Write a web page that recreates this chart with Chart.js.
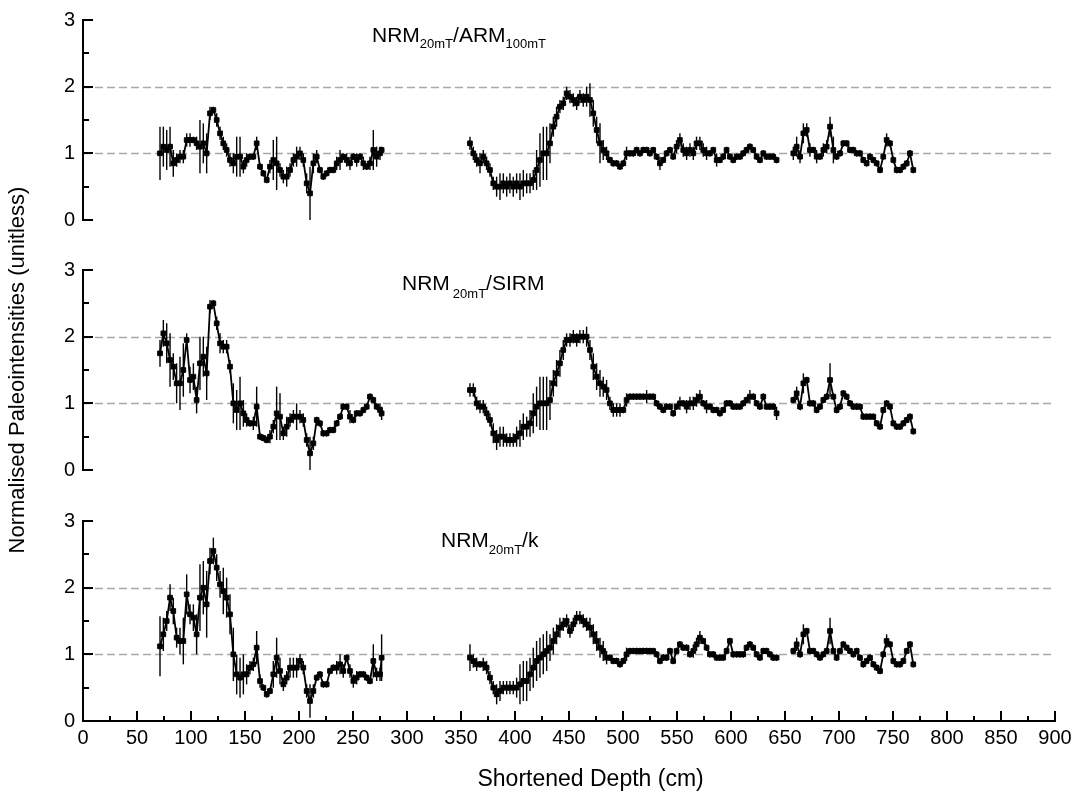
<!DOCTYPE html>
<html>
<head>
<meta charset="utf-8">
<script src="https://cdn.jsdelivr.net/npm/chart.js@4.4.1/dist/chart.umd.min.js"></script>
<style>
  html, body { margin: 0; padding: 0; background: #fff; }
  body { width: 1081px; height: 793px; position: relative; overflow: hidden; }
  canvas { position: absolute; left: 0; top: 0; }
</style>
</head>
<body>
<canvas id="c1" width="1081" height="793"></canvas>
<canvas id="c2" width="1081" height="793"></canvas>
<canvas id="c3" width="1081" height="793"></canvas>
<script>
// ---------------- DATA ----------------
const depthCm = [
  71.3,74.4,77.5,80.6,83.6,86.7,89.8,92.9,96.0,99.1,102.2,105.2,108.3,111.4,114.5,117.6,120.7,123.8,126.9,129.9,
  133.0,136.1,139.2,142.3,145.4,148.5,151.5,154.6,157.7,160.8,163.9,167.0,170.1,173.1,176.2,179.3,182.4,185.5,188.6,191.7,
  194.8,197.8,200.9,204.0,207.1,210.2,213.3,216.4,219.4,222.5,225.6,228.7,231.8,234.9,238.0,241.0,244.1,247.2,250.3,253.4,
  256.5,259.6,262.7,265.7,268.8,271.9,275.0,276.5,
  358.3,361.4,364.5,367.6,370.6,373.7,376.8,379.9,383.0,386.1,389.2,392.3,395.3,398.4,401.5,404.6,407.7,410.8,413.9,416.9,
  420.0,423.1,426.2,429.3,432.4,435.5,438.5,441.6,444.7,447.8,450.9,454.0,457.1,460.1,463.2,466.3,469.4,472.5,475.6,478.7,
  481.7,484.8,487.9,491.0,494.1,497.2,500.3,503.3,506.4,509.5,512.6,515.7,518.8,521.9,524.9,528.0,531.1,534.2,537.3,540.4,
  543.5,546.5,549.6,552.7,555.8,558.9,562.0,565.1,568.1,571.2,574.3,577.4,580.5,583.6,586.7,589.7,592.8,595.9,599.0,602.1,
  605.2,608.3,611.3,614.4,617.5,620.6,623.7,626.8,629.9,632.9,636.0,639.1,642.2,
  657.7,660.8,663.9,667.0,670.1,673.1,676.2,679.3,682.4,685.5,688.6,691.7,694.8,697.8,700.9,704.0,707.1,710.2,713.3,716.4,
  719.4,722.5,725.6,728.7,731.8,734.9,738.0,741.0,744.1,747.2,750.3,753.4,756.5,759.6,762.7,765.7,768.8
];

// NRM20mT / ARM100mT
const armRatio = [
  1.0,1.1,1.05,1.1,0.85,0.9,0.95,0.95,1.2,1.2,1.2,1.15,1.1,1.15,1.0,1.6,1.65,1.5,1.3,1.15,
  1.05,0.9,0.85,0.95,0.95,0.8,0.9,0.95,0.95,1.15,0.8,0.7,0.6,0.8,0.9,0.85,0.75,0.65,0.65,0.75,
  0.9,0.95,1.0,0.9,0.55,0.4,0.85,0.95,0.75,0.65,0.7,0.75,0.75,0.85,0.9,0.95,0.9,0.85,0.95,0.9,
  0.95,0.85,0.8,0.85,1.05,0.95,1.0,1.05,
  1.15,1.0,0.9,0.85,0.95,0.85,0.75,0.55,0.5,0.5,0.55,0.5,0.55,0.5,0.55,0.5,0.55,0.55,0.55,0.6,
  0.75,0.9,1.0,1.0,1.15,1.4,1.55,1.7,1.75,1.9,1.85,1.8,1.75,1.85,1.8,1.85,1.8,1.6,1.35,1.15,
  1.05,1.0,0.9,0.85,0.85,0.8,0.85,1.0,1.0,1.0,1.05,1.0,1.05,1.05,1.0,1.05,0.95,0.85,0.9,1.0,
  1.05,0.95,1.1,1.2,1.05,1.0,1.05,1.0,1.15,1.15,1.05,1.0,1.0,1.05,0.9,0.9,0.95,1.05,0.95,0.9,
  0.95,0.95,1.0,1.05,1.1,1.05,0.95,0.9,1.0,0.95,0.95,0.95,0.9,
  1.0,1.1,0.95,1.3,1.35,1.05,1.05,0.95,0.95,1.05,1.1,1.4,1.05,0.95,1.0,1.15,1.15,1.05,1.05,1.0,
  1.0,0.9,0.85,0.95,0.9,0.85,0.75,0.95,1.2,1.15,0.9,0.75,0.75,0.8,0.85,1.0,0.75
];
const armErr = [
  .4,.3,.3,.3,.2,.1,.1,.1,.1,.1,.05,.1,.4,.3,.3,.1,.05,.1,.1,.1,
  .1,.1,.15,.3,.3,.1,.1,.05,.05,.1,.05,.05,.05,.1,.3,.4,.1,.1,.15,.1,
  .1,.15,.1,.1,.15,.4,.15,.1,.05,.05,.05,.05,.05,.1,.15,.05,.1,.1,.05,.1,
  .05,.1,.05,.1,.3,.15,.1,.05,
  .1,.1,.1,.15,.1,.1,.1,.1,.15,.2,.15,.15,.15,.15,.15,.2,.2,.15,.15,.15,
  .3,.4,.4,.4,.3,.15,.15,.1,.1,.1,.1,.1,.1,.1,.1,.15,.25,.2,.2,.3,
  .15,.1,.05,.05,.05,.05,.05,.1,.05,.05,.05,.05,.05,.05,.05,.05,.05,.1,.05,.05,
  .05,.05,.1,.1,.1,.1,.1,.1,.1,.1,.1,.1,.05,.05,.1,.05,.05,.05,.05,.05,
  .05,.05,.05,.05,.05,.05,.05,.05,.05,.05,.05,.05,.05,
  .1,.15,.1,.15,.1,.1,.05,.1,.05,.1,.1,.15,.2,.05,.05,.05,.05,.05,.05,.05,
  .05,.05,.05,.05,.05,.05,.05,.05,.1,.05,.05,.05,.05,.05,.05,.05,.05
];

// NRM20mT / SIRM
const sirmRatio = [
  1.75,2.05,1.9,1.65,1.55,1.3,1.3,1.5,1.95,1.35,1.4,1.05,1.6,1.7,1.45,2.45,2.5,2.2,1.9,1.85,
  1.85,1.55,1.0,0.9,1.0,0.85,0.75,0.7,0.7,0.95,0.5,0.48,0.45,0.5,0.65,0.85,0.8,0.55,0.65,0.75,
  0.8,0.8,0.8,0.75,0.45,0.25,0.4,0.75,0.7,0.55,0.55,0.6,0.6,0.7,0.8,0.95,0.95,0.8,0.75,0.85,
  0.85,0.9,0.95,1.1,1.05,0.95,0.9,0.85,
  1.2,1.2,1.0,0.95,0.95,0.85,0.75,0.55,0.45,0.5,0.5,0.45,0.45,0.45,0.5,0.55,0.65,0.65,0.7,0.85,
  0.95,1.0,1.0,1.0,1.05,1.3,1.45,1.6,1.8,1.95,1.95,2.0,1.95,2.0,2.0,2.0,1.8,1.55,1.4,1.3,
  1.25,1.2,1.0,0.9,0.9,0.9,0.9,1.05,1.1,1.1,1.1,1.1,1.1,1.1,1.1,1.1,1.0,0.95,0.9,0.95,
  0.95,0.85,0.95,1.0,1.0,0.95,1.0,1.0,1.05,1.1,1.0,0.95,0.95,0.9,0.9,0.85,0.9,1.0,1.0,0.95,
  0.95,0.95,1.0,1.05,1.1,1.1,1.0,0.95,1.1,0.95,0.95,0.95,0.85,
  1.05,1.15,0.95,1.3,1.35,1.0,1.0,0.9,0.95,1.05,1.1,1.35,1.1,0.9,0.95,1.15,1.1,1.0,0.95,0.95,
  0.95,0.8,0.8,0.8,0.8,0.7,0.65,0.9,1.0,0.95,0.7,0.65,0.65,0.7,0.75,0.8,0.58
];
const sirmErr = [
  .2,.2,.3,.4,.2,.3,.4,.4,.1,.2,.2,.2,.4,.3,.4,.1,.05,.1,.15,.1,
  .1,.1,.3,.3,.4,.2,.1,.05,.1,.3,.05,.05,.05,.1,.1,.4,.35,.1,.15,.1,
  .1,.2,.1,.1,.1,.25,.1,.05,.05,.05,.05,.05,.05,.05,.05,.05,.05,.1,.05,.05,
  .05,.05,.05,.05,.05,.05,.1,.1,
  .1,.1,.1,.1,.1,.1,.1,.15,.15,.15,.15,.1,.1,.1,.15,.2,.2,.15,.2,.3,
  .3,.4,.4,.4,.3,.2,.2,.2,.15,.1,.1,.1,.1,.1,.1,.15,.15,.2,.2,.2,
  .15,.15,.1,.1,.1,.1,.05,.1,.05,.05,.05,.05,.05,.1,.05,.05,.05,.05,.05,.05,
  .05,.05,.05,.1,.05,.1,.1,.1,.1,.1,.05,.1,.05,.05,.05,.05,.05,.05,.05,.05,
  .05,.05,.05,.05,.1,.05,.05,.05,.05,.05,.05,.05,.1,
  .05,.1,.05,.15,.05,.05,.05,.05,.05,.05,.05,.25,.05,.05,.05,.05,.05,.05,.05,.05,
  .05,.05,.05,.05,.05,.05,.05,.05,.05,.05,.05,.05,.05,.05,.05,.05,.05
];

// NRM20mT / k
const kRatio = [
  1.12,1.3,1.5,1.85,1.65,1.25,1.2,1.2,1.9,1.6,1.55,1.3,1.85,2.0,1.75,2.4,2.55,2.3,2.05,1.95,
  1.85,1.6,1.0,0.7,0.65,0.7,0.7,0.8,0.85,1.1,0.6,0.5,0.4,0.45,0.7,0.95,0.75,0.55,0.65,0.8,
  0.8,0.8,0.9,0.8,0.45,0.3,0.45,0.65,0.7,0.55,0.55,0.75,0.8,0.8,0.85,0.75,0.95,0.75,0.6,0.65,
  0.7,0.7,0.65,0.6,0.9,0.7,0.7,0.95,
  0.95,0.9,0.85,0.85,0.85,0.8,0.65,0.5,0.4,0.45,0.5,0.5,0.5,0.5,0.5,0.55,0.6,0.6,0.7,0.8,
  0.9,0.95,1.0,1.05,1.1,1.2,1.3,1.4,1.45,1.5,1.35,1.45,1.55,1.55,1.5,1.45,1.4,1.3,1.2,1.1,
  1.05,0.95,0.95,0.9,0.9,0.85,0.9,1.0,1.05,1.05,1.05,1.05,1.05,1.05,1.05,1.05,1.0,0.9,0.95,0.95,
  1.05,0.9,1.05,1.15,1.1,1.1,1.0,1.05,1.15,1.25,1.2,1.1,1.0,1.0,0.95,0.95,0.95,1.05,1.2,1.0,
  1.0,1.0,1.0,1.1,1.15,1.1,1.0,0.95,1.05,1.05,1.0,0.95,0.95,
  1.05,1.15,1.0,1.3,1.35,1.05,1.05,1.0,0.95,1.0,1.05,1.35,1.05,0.95,1.05,1.15,1.1,1.05,1.0,1.05,
  0.95,0.85,0.9,0.95,0.85,0.8,0.75,1.0,1.2,1.15,0.9,0.85,0.85,0.9,1.05,1.15,0.85
];
const kErr = [
  .45,.25,.15,.2,.2,.15,.2,.35,.3,.15,.2,.3,.5,.4,.5,.2,.2,.2,.2,.35,
  .3,.3,.4,.3,.3,.3,.15,.1,.1,.25,.1,.05,.05,.05,.2,.3,.2,.1,.1,.15,
  .15,.15,.1,.1,.1,.25,.1,.05,.05,.05,.05,.05,.05,.1,.15,.1,.05,.1,.1,.1,
  .05,.05,.05,.05,.25,.1,.1,.35,
  .2,.1,.1,.05,.1,.1,.1,.1,.15,.15,.1,.1,.1,.1,.15,.3,.3,.3,.25,.3,
  .3,.3,.3,.3,.2,.2,.15,.15,.1,.1,.1,.1,.1,.1,.1,.1,.15,.15,.15,.15,
  .15,.1,.05,.05,.05,.05,.05,.1,.05,.05,.05,.05,.05,.05,.05,.05,.05,.05,.05,.05,
  .05,.05,.05,.05,.05,.05,.05,.1,.1,.1,.05,.05,.05,.05,.05,.05,.05,.05,.05,.05,
  .05,.05,.05,.05,.05,.05,.05,.05,.05,.05,.05,.05,.05,
  .05,.1,.05,.15,.05,.05,.05,.05,.05,.05,.05,.2,.05,.05,.05,.05,.05,.05,.05,.05,
  .05,.05,.05,.05,.05,.05,.05,.05,.1,.05,.05,.05,.05,.05,.05,.05,.05
];

const refLevels = [1, 2];
const yTicksMinorStep = 0.5;
const xTicksMinorStep = 25;
const xTitleText = 'Shortened Depth (cm)';
const yTitleText = 'Normalised Paleointensities (unitless)';

// ---------------- DRAWING ----------------
const FONT = "'Liberation Sans', Arial, Helvetica, sans-serif";
Chart.defaults.font.family = FONT;
Chart.defaults.color = '#000';

const panelDecor = {
  id: 'panelDecor',
  beforeDatasetsDraw(chart, args, o) {
    const { ctx, scales: { x, y } } = chart;
    ctx.save();
    ctx.strokeStyle = '#a8a8a8';
    ctx.lineWidth = 1.4;
    ctx.setLineDash([8, 4]);
    refLevels.forEach(v => {
      const py = Math.round(y.getPixelForValue(v)) + 0.5;
      ctx.beginPath();
      ctx.moveTo(x.getPixelForValue(x.min), py);
      ctx.lineTo(x.getPixelForValue(x.max), py);
      ctx.stroke();
    });
    ctx.setLineDash([]);
    const meta = chart.getDatasetMeta(0);
    const ds = chart.data.datasets[0].data;
    ctx.strokeStyle = '#000';
    ctx.lineWidth = 1.4;
    meta.data.forEach((pt, i) => {
      const v = ds[i].y, e = o.err[i];
      ctx.beginPath();
      ctx.moveTo(pt.x, y.getPixelForValue(v - e));
      ctx.lineTo(pt.x, y.getPixelForValue(v + e));
      ctx.stroke();
    });
    ctx.restore();
  },
  afterDraw(chart, args, o) {
    const { ctx, scales: { x, y } } = chart;
    ctx.save();
    ctx.strokeStyle = '#000';
    ctx.lineWidth = 2;
    const x0 = x.getPixelForValue(x.min);
    const x1 = x.getPixelForValue(x.max);
    const yTop = y.getPixelForValue(y.max), yBot = y.getPixelForValue(y.min);
    ctx.beginPath();
    ctx.moveTo(x0, yTop - 1); ctx.lineTo(x0, yBot + 1);
    for (let v = y.min; v <= y.max + 1e-9; v += yTicksMinorStep) {
      const py = Math.round(y.getPixelForValue(v));
      const major = Math.abs(v - Math.round(v)) < 1e-9;
      ctx.moveTo(x0, py); ctx.lineTo(x0 + (major ? 10 : 6), py);
    }
    ctx.stroke();
    if (o.xAxis) {
      ctx.beginPath();
      ctx.moveTo(x0 - 1, yBot); ctx.lineTo(x1 + 1, yBot);
      for (let v = x.min; v <= x.max + 1e-9; v += xTicksMinorStep) {
        const px = Math.round(x.getPixelForValue(v));
        const major = (v % 50) === 0;
        ctx.moveTo(px, yBot); ctx.lineTo(px, yBot - (major ? 10 : 5));
      }
      ctx.stroke();
      ctx.fillStyle = '#000';
      ctx.font = '23px ' + FONT;
      ctx.textAlign = 'center';
      ctx.textBaseline = 'alphabetic';
      ctx.fillText(xTitleText, x.getPixelForValue(o.xTitleAt), o.xTitleBaseline);
    }
    let px = x.getPixelForValue(o.titleAt);
    const base = chart.chartArea.top + o.titleDy;
    ctx.fillStyle = '#000';
    ctx.textAlign = 'left';
    ctx.textBaseline = 'alphabetic';
    o.title.forEach(([t, sub, gap]) => {
      px += gap || 0;
      ctx.font = (sub ? '13px ' : '21px ') + FONT;
      ctx.fillText(t, px, sub ? base + o.subDy : base);
      px += ctx.measureText(t).width;
    });
    ctx.restore();
  }
};

function makePanel(id, vals, errs, padTop, padBottom, showX, showYTitle, decor) {
  const pts = depthCm.map((d, i) => ({ x: d, y: vals[i] }));
  return new Chart(document.getElementById(id), {
    type: 'line',
    data: {
      datasets: [{
        data: pts,
        borderColor: '#000',
        borderWidth: 1.8,
        pointStyle: 'rect',
        pointRadius: 3.3,
        pointBackgroundColor: '#000',
        pointBorderColor: '#000',
        pointBorderWidth: 1,
        tension: 0,
        clip: false,
        segment: {
          borderColor: c => (c.p1.parsed.x - c.p0.parsed.x > 10 ? 'rgba(0,0,0,0)' : undefined)
        }
      }]
    },
    options: {
      responsive: false,
      animation: false,
      events: [],
      layout: { padding: { top: padTop, bottom: padBottom, left: 0, right: 26 } },
      plugins: {
        legend: { display: false },
        tooltip: { enabled: false },
        panelDecor: Object.assign({ err: errs, xAxis: showX }, decor)
      },
      scales: {
        x: {
          type: 'linear', min: 0, max: 900, display: showX,
          ticks: { stepSize: 50, autoSkip: false, maxRotation: 0, font: { size: 20 }, padding: 5, color: '#000' },
          grid: { display: false, drawTicks: false },
          border: { display: false },
          afterFit: s => { s.height = showX ? 72 : 0; }
        },
        y: {
          type: 'linear', min: 0, max: 3,
          ticks: { stepSize: 1, font: { size: 20 }, padding: 8, color: '#000' },
          grid: { display: false, drawTicks: false },
          border: { display: false },
          title: { display: showYTitle, text: yTitleText, font: { size: 22 }, padding: { top: 5, bottom: 0 }, color: '#000' },
          afterFit: s => { s.width = 83; }
        }
      }
    },
    plugins: [panelDecor]
  });
}

makePanel('c1', armRatio, armErr, 20, 573, false, false, {
  titleAt: 267.6, titleDy: 21.7, subDy: 6.6,
  title: [['NRM', false], ['20mT', true], ['/ARM', false], ['100mT', true]]
});
makePanel('c2', sirmRatio, sirmErr, 270, 323, false, true, {
  titleAt: 295.4, titleDy: 20, subDy: 7.7,
  title: [['NRM', false], ['20mT', true, 3], ['/SIRM', false]]
});
makePanel('c3', kRatio, kErr, 521, 0, true, false, {
  titleAt: 331.5, titleDy: 25.7, subDy: 7.6, xTitleAt: 470, xTitleBaseline: 786,
  title: [['NRM', false], ['20mT', true], ['/k', false]]
});
</script>
</body>
</html>
